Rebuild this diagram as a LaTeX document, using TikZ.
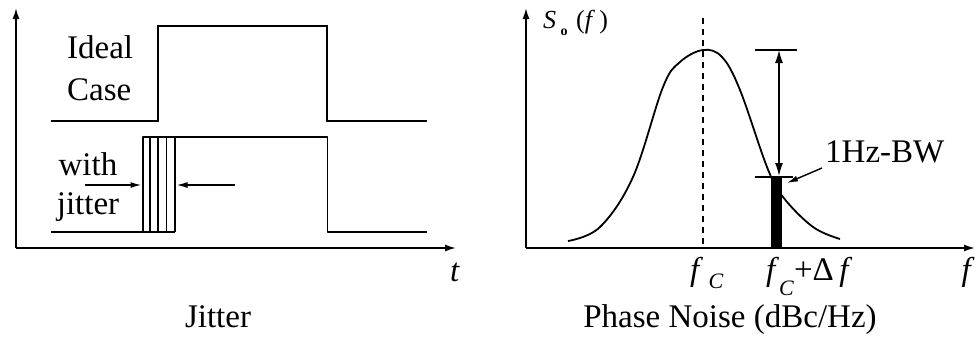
\documentclass[tikz,border=0pt]{standalone}
\usepackage{fontspec}
\setmainfont{Liberation Serif}
\usetikzlibrary{arrows.meta}

\tikzset{
  sig/.style={line width=1.6pt},
  axis/.style={line width=1.6pt, -{Latex[length=11pt,width=7pt]}},
  ptr/.style={line width=1.4pt, -{Latex[length=11pt,width=6pt]}},
  lbl/.style={font=\fontsize{33}{40}\selectfont, inner sep=0pt},
  sublbl/.style={font=\fontsize{26}{30}\selectfont, inner sep=0pt},
}
\newcommand{\subC}[1]{\raisebox{#1}{\fontsize{22}{22}\selectfont\textit{C}}}

\begin{document}
\begin{tikzpicture}[x=1pt,y=-1pt]
    \useasboundingbox (0,0) rectangle (979,338);

    % jitter side
    \coordinate (O) at (16,248);
    \coordinate (Y) at (16,8);
    \coordinate (T) at (456,248);
    \draw[axis] (O) -- (Y);
    \draw[axis] (O) -- (T);

    \draw[sig] (51,121) -- (158,121) -- (158,26) -- (327,26) -- (327,121) -- (427,121);
    \draw[sig] (51,232) -- (175,232);
    \draw[sig, line join=round] (143,232) -- (143,137) -- (327.5,137) -- (327.5,232) -- (427,232);
    \foreach \x in {150,158,166.5,175}
    \draw[line width=1.2pt] (\x,137) -- (\x,232);

    \coordinate (JL) at (85,185);
    \coordinate (JA) at (141.5,185);
    \coordinate (JR) at (235,185);
    \coordinate (JB) at (176.5,185);
    \draw[ptr] (JL) -- (JA);
    \draw[ptr] (JR) -- (JB);

    \node[lbl, anchor=base west] (ideal) at (67,58) {Ideal};
    \node[lbl, anchor=base west] (case) at (67,100) {Case};
    \node[lbl, anchor=base] (with) at (88,175) {with};
    \node[lbl, anchor=base] (jit) at (88,214) {jitter};
    \node[lbl, anchor=base] (t) at (455,281) {\textit{t}};
    \node[lbl, anchor=base] (jtitle) at (218,327) {Jitter};

    % phase noise side
    \coordinate (O2) at (526,248);
    \coordinate (Y2) at (526,8);
    \coordinate (F) at (975,248);
    \draw[axis] (O2) -- (Y2);
    \draw[axis] (O2) -- (F);

    \draw[sig, dashed, dash pattern=on 6pt off 5pt] (703,18) -- (703,248);
    \draw[line width=1.8pt] plot[smooth, tension=0.6] coordinates {(568,241) (600,227) (633,177) (663,87) (680,62) (703,50) (722,57) (740,90) (767,167) (783,197) (813,227) (840,239)};
    \fill[black] (770.5,176) rectangle (781.5,248);

    \coordinate (H1a) at (755,50);
    \coordinate (H1b) at (797,50);
    \coordinate (H2a) at (755,177);
    \coordinate (H2b) at (793,177);
    \draw[sig] (H1a) -- (H1b);
    \draw[sig] (H2a) -- (H2b);
    \coordinate (DA) at (779,50);
    \coordinate (DB) at (779,176);
    \draw[line width=1.4pt, {Latex[length=13pt,width=8pt]}-{Latex[length=13pt,width=8pt]}] (DA) -- (DB);

    \node[lbl, anchor=base west] (bw) at (825,162) {1Hz-BW};
    \coordinate (BWp) at (822,168);
    \coordinate (BWq) at (787,183);
    \draw[ptr] (BWp) -- (BWq);

    \node[sublbl, anchor=base west] (So) at (543,28) {\textit{S}\,\raisebox{-7pt}{\fontsize{14}{14}\selectfont\textbf{o}}\,\,(\textit{f}\,)};
    \node[lbl, anchor=base west] (fc) at (690,280) {\textit{f}\,\subC{-8pt}};
    \node[lbl, anchor=base west] (fcd) at (766,280) {\textit{f}\subC{-15pt}+Δ\,\textit{f}};
    \node[lbl, anchor=base] (f) at (968,280) {\textit{f}};
    \node[lbl, anchor=base] (ptitle) at (730,327) {Phase Noise (dBc/Hz)};
\end{tikzpicture}
\end{document}
